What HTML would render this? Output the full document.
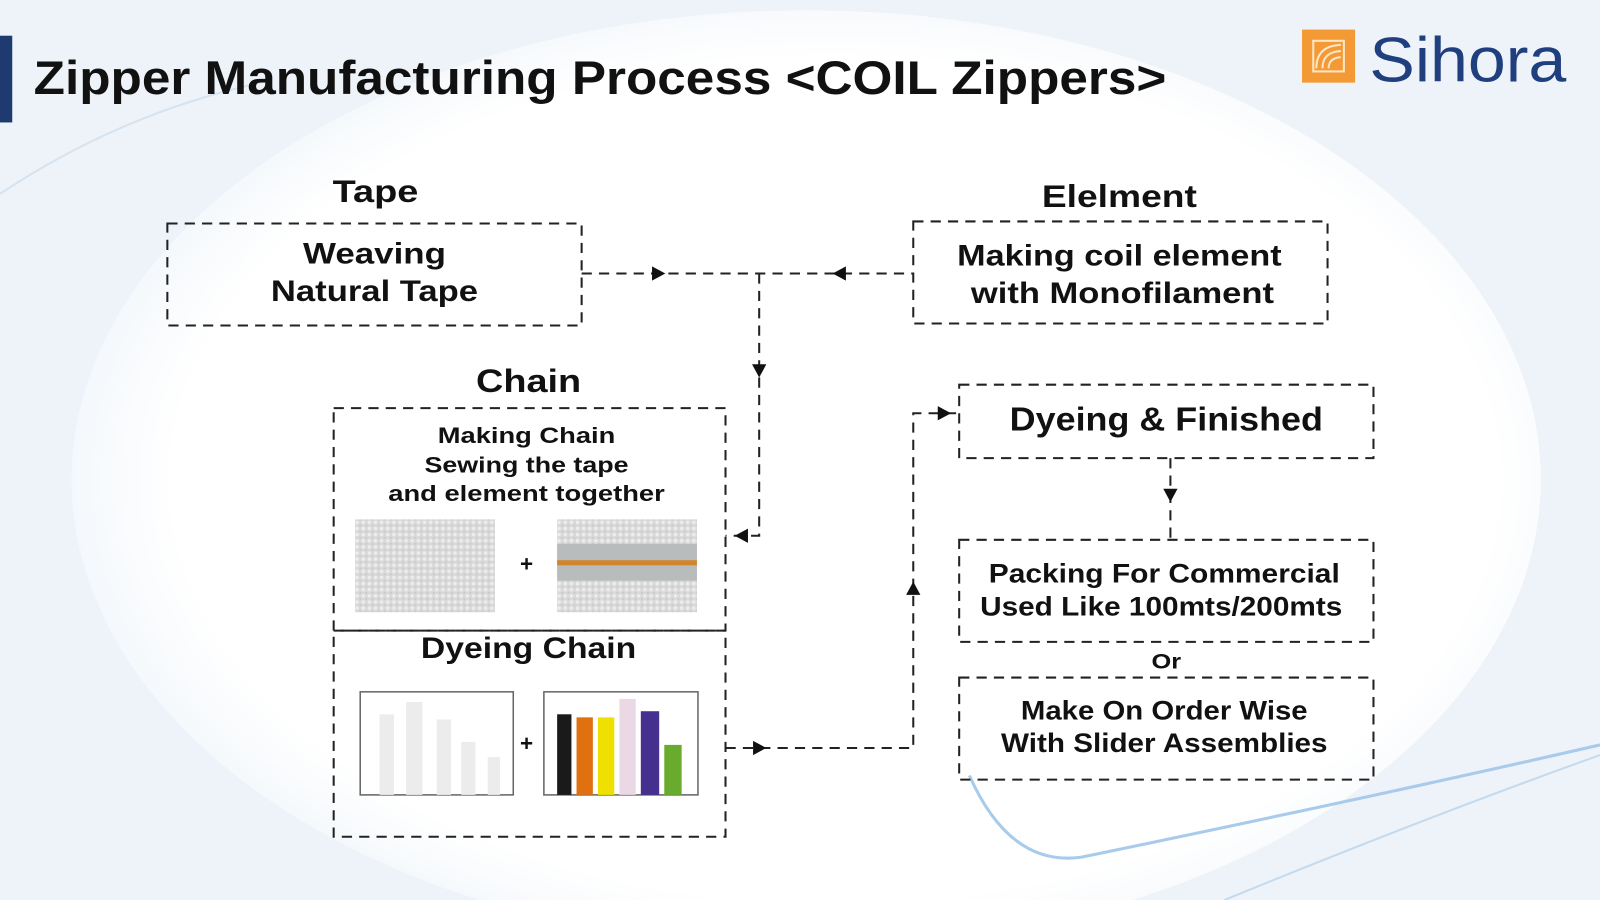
<!DOCTYPE html>
<html><head><meta charset="utf-8"><style>
html,body{margin:0;padding:0;width:1600px;height:900px;overflow:hidden;background:#f1f5fa}
svg{display:block;overflow:hidden}
text{font-family:"Liberation Sans",sans-serif;font-weight:bold;fill:#111}
</style></head><body>
<svg width="1600" height="900" viewBox="0 0 1568 882" preserveAspectRatio="none" xmlns="http://www.w3.org/2000/svg">
<defs>
<radialGradient id="bg" cx="0.52" cy="0.5" r="0.6">
<stop offset="0" stop-color="#ffffff"/><stop offset="0.75" stop-color="#ffffff"/><stop offset="1" stop-color="#e8f0f8"/>
</radialGradient>
<pattern id="tex" width="6" height="6" patternUnits="userSpaceOnUse"><rect width="6" height="6" fill="#d9d9d9"/><circle cx="2" cy="2" r="1.6" fill="#eeeeee"/><circle cx="5" cy="5" r="1" fill="#c8c8c8"/></pattern>
</defs>
<rect width="1568" height="882" fill="#eef3f9"/>
<ellipse cx="790" cy="470" rx="720" ry="460" fill="url(#bg)"/>
<path d="M0 190 Q120 110 260 80" stroke="#d5e3f0" stroke-width="2" fill="none"/>
<path d="M950 760 Q990 850 1060 840 Q1350 780 1568 730" stroke="#a9cbeb" stroke-width="3" fill="none"/>
<path d="M1200 882 Q1400 800 1568 740" stroke="#c3daef" stroke-width="2" fill="none"/>
<rect x="0" y="35" width="12" height="85" fill="#1e3a6e"/>
<text x="33" y="92" font-size="46" textLength="1110" lengthAdjust="spacingAndGlyphs">Zipper Manufacturing Process &lt;COIL Zippers&gt;</text>
<rect x="1276" y="29" width="52" height="52" fill="#f39a35"/>
<g stroke="#fde6c8" stroke-width="2" fill="none"><rect x="1287" y="40" width="30" height="30"/><path d="M1290 67 Q1290 45 1314 44"/><path d="M1296 67 Q1296 51 1314 50"/><path d="M1302 67 Q1302 57 1314 56"/></g>
<text x="1342" y="80" font-size="62" style="font-weight:normal;fill:#1f3f7f" textLength="193" lengthAdjust="spacingAndGlyphs">Sihora</text>
<g fill="none" stroke="#222" stroke-width="2" stroke-dasharray="10 7">
<rect x="164" y="219" width="406" height="100"/>
<rect x="895" y="217" width="406" height="100"/>
<rect x="327" y="400" width="384" height="218"/>
<rect x="327" y="618" width="384" height="202"/>
<rect x="940" y="377" width="406" height="72"/>
<rect x="940" y="529" width="406" height="100"/>
<rect x="940" y="664" width="406" height="100"/>
<path d="M570 268 H895"/>
<path d="M744 268 V525 H711"/>
<path d="M711 733 H895 V405 H940"/>
<path d="M1147 449 V529"/>
</g>
<g fill="#111">
<path d="M652 268 l-13 -7 v14z"/>
<path d="M816 268 l13 -7 v14z"/>
<path d="M744 370 l-7 -13 h14z"/>
<path d="M720 525 l13 -7 v14z"/>
<path d="M751 733 l-13 -7 v14z"/>
<path d="M895 570 l-7 13 h14z"/>
<path d="M932 405 l-13 -7 v14z"/>
<path d="M1147 492 l-7 -13 h14z"/>
</g>
<g text-anchor="middle" lengthAdjust="spacingAndGlyphs">
<text x="368" y="198" font-size="31" textLength="84" lengthAdjust="spacingAndGlyphs">Tape</text>
<text x="367" y="258" font-size="29" textLength="140" lengthAdjust="spacingAndGlyphs">Weaving</text>
<text x="367" y="295" font-size="29" textLength="203" lengthAdjust="spacingAndGlyphs">Natural Tape</text>
<text x="1097" y="203" font-size="31" textLength="152" lengthAdjust="spacingAndGlyphs">Elelment</text>
<text x="1097" y="260" font-size="29" textLength="318" lengthAdjust="spacingAndGlyphs">Making coil element</text>
<text x="1100" y="297" font-size="29" textLength="297" lengthAdjust="spacingAndGlyphs">with Monofilament</text>
<text x="518" y="384" font-size="32" textLength="103" lengthAdjust="spacingAndGlyphs">Chain</text>
<text x="516" y="434" font-size="22" textLength="174" lengthAdjust="spacingAndGlyphs">Making Chain</text>
<text x="516" y="463" font-size="22" textLength="200" lengthAdjust="spacingAndGlyphs">Sewing the tape</text>
<text x="516" y="491" font-size="22" textLength="271" lengthAdjust="spacingAndGlyphs">and element together</text>
<text x="516" y="560" font-size="22">+</text>
<text x="518" y="645" font-size="29" textLength="211" lengthAdjust="spacingAndGlyphs">Dyeing Chain</text>
<text x="516" y="736" font-size="22">+</text>
<text x="1143" y="422" font-size="33" textLength="307" lengthAdjust="spacingAndGlyphs">Dyeing &amp; Finished</text>
<text x="1141" y="571" font-size="26" textLength="344" lengthAdjust="spacingAndGlyphs">Packing For Commercial</text>
<text x="1138" y="603" font-size="26" textLength="355" lengthAdjust="spacingAndGlyphs">Used Like 100mts/200mts</text>
<text x="1143" y="655" font-size="21" textLength="29" lengthAdjust="spacingAndGlyphs">Or</text>
<text x="1141" y="705" font-size="26" textLength="281" lengthAdjust="spacingAndGlyphs">Make On Order Wise</text>
<text x="1141" y="737" font-size="26" textLength="320" lengthAdjust="spacingAndGlyphs">With Slider Assemblies</text>
</g>
<rect x="348" y="509" width="137" height="91" fill="url(#tex)"/>
<rect x="546" y="509" width="137" height="91" fill="url(#tex)"/>
<rect x="546" y="533" width="137" height="36" fill="#b9bcbc"/>
<rect x="546" y="549" width="137" height="5" fill="#d0862c"/>
<rect x="353" y="678" width="150" height="101" fill="#fff" stroke="#666" stroke-width="1.5"/>
<g fill="#ececec"><rect x="372" y="700" width="14" height="79"/><rect x="398" y="688" width="16" height="91"/><rect x="428" y="705" width="14" height="74"/><rect x="452" y="727" width="14" height="52"/><rect x="478" y="742" width="12" height="37"/></g>
<rect x="533" y="678" width="151" height="101" fill="#fff" stroke="#666" stroke-width="1.5"/>
<rect x="546" y="700" width="14" height="79" fill="#1a1a1a"/>
<rect x="565" y="703" width="16" height="76" fill="#e07010"/>
<rect x="586" y="703" width="16" height="76" fill="#f0e000"/>
<rect x="607" y="685" width="16" height="94" fill="#ead9e4"/>
<rect x="628" y="697" width="18" height="82" fill="#45308f"/>
<rect x="651" y="730" width="17" height="49" fill="#68ab2d"/>
</svg>
</body></html>
